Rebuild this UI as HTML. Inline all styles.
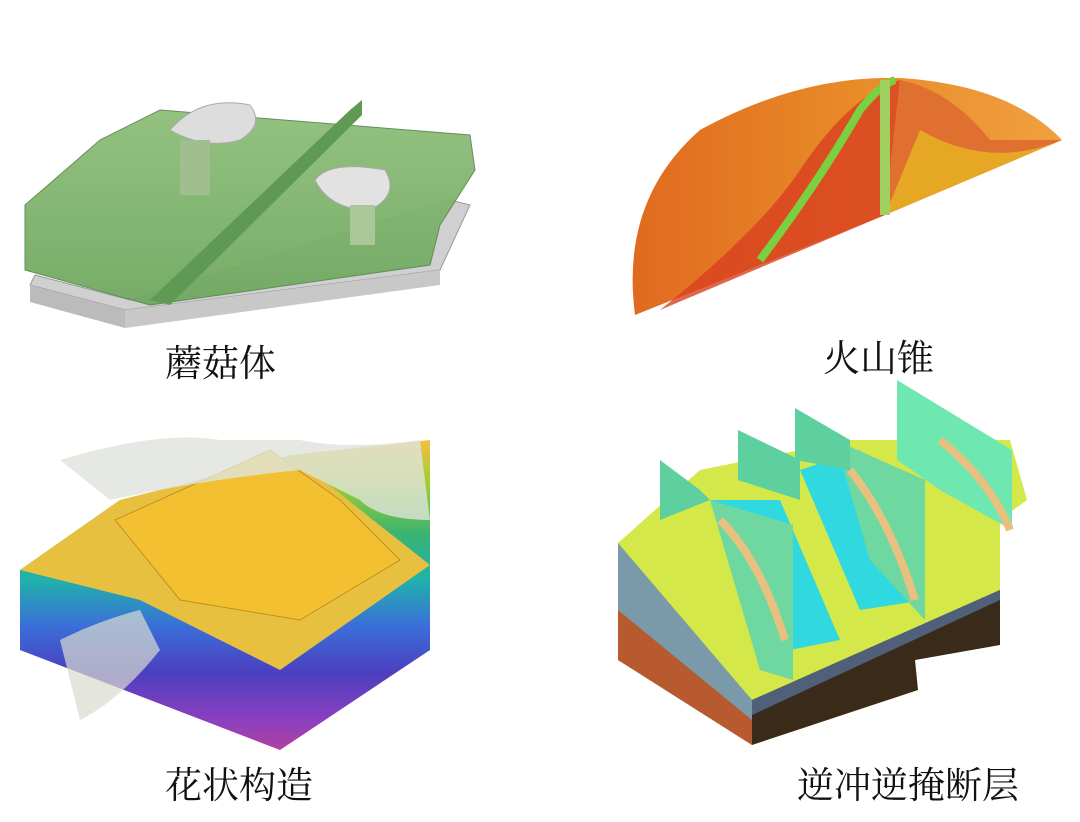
<!DOCTYPE html>
<html><head><meta charset="utf-8"><style>
html,body{margin:0;padding:0;background:#fff;}
#w{position:relative;width:1080px;height:822px;overflow:hidden;}
.t{position:absolute;font-family:"Liberation Serif","Noto Serif CJK SC","Noto Sans CJK SC",serif;font-size:37px;color:#111;white-space:nowrap;}
svg{position:absolute;left:0;top:0;}
</style></head><body><div id="w">
<svg width="1080" height="822" viewBox="0 0 1080 822">
<defs>
<linearGradient id="vol" x1="0" y1="0" x2="1" y2="0">
<stop offset="0" stop-color="#e06a20"/><stop offset="0.5" stop-color="#e88a28"/><stop offset="1" stop-color="#f0a040"/></linearGradient>
<linearGradient id="gr" x1="0" y1="0" x2="0" y2="1">
<stop offset="0" stop-color="#8fbf7a"/><stop offset="1" stop-color="#6fa860"/></linearGradient>
<linearGradient id="rb" x1="0" y1="0" x2="0" y2="1">
<stop offset="0" stop-color="#f2c040"/><stop offset="0.15" stop-color="#9acd32"/><stop offset="0.3" stop-color="#3cb371"/><stop offset="0.45" stop-color="#20b2aa"/><stop offset="0.6" stop-color="#3a6fd8"/><stop offset="0.75" stop-color="#4b3fc0"/><stop offset="0.9" stop-color="#8a3fc0"/><stop offset="1" stop-color="#b040a0"/></linearGradient>
</defs>
<!-- mushroom -->
<polygon points="30,285 125,310 440,270 470,205 450,200 130,300 35,275" fill="#d0d0d0" stroke="#999"/>
<polygon points="30,285 125,310 125,328 30,302" fill="#bbb"/>
<polygon points="125,310 440,270 440,285 125,328" fill="#c8c8c8"/>
<polygon points="25,205 100,140 160,110 470,135 475,170 440,225 430,265 150,305 25,270" fill="url(#gr)" stroke="#5a8a50" opacity="0.95"/>
<polygon points="150,300 350,110 362,100 362,115 170,305" fill="#5f9a55"/>
<path d="M170,130 Q200,95 250,105 Q265,125 240,140 Q205,150 170,130Z" fill="#ddd" stroke="#aaa"/>
<rect x="180" y="140" width="30" height="55" fill="#9fbf90"/>
<path d="M315,180 Q330,160 385,170 Q400,195 370,210 Q330,210 315,180Z" fill="#e2e2e2" stroke="#aaa"/>
<rect x="350" y="205" width="25" height="40" fill="#a8c89a"/>
<!-- volcano -->
<path d="M635,315 Q620,200 700,130 Q800,75 900,78 Q1010,85 1062,140 L885,215 Z" fill="url(#vol)"/>
<path d="M660,310 Q760,230 800,170 Q850,95 900,80 L885,215Z" fill="#d84020" opacity="0.8"/>
<path d="M885,215 L900,80 Q950,90 990,140 L1062,140Z" fill="#e07030"/>
<path d="M885,215 L920,130 Q990,170 1062,140Z" fill="#e8c020" opacity="0.7"/>
<path d="M760,260 Q820,180 860,110 Q880,85 895,80" stroke="#7ad040" stroke-width="8" fill="none"/>
<rect x="880" y="80" width="10" height="135" fill="#a0d060"/>
<!-- flower -->
<polygon points="20,570 120,500 200,480 290,455 430,440 430,650 280,750 20,650" fill="url(#rb)"/>
<polygon points="20,570 120,500 200,480 270,455 310,470 430,565 280,670 140,600" fill="#e8c040"/>
<polygon points="115,520 270,450 340,500 400,560 300,620 180,600" fill="#f2c030" stroke="#c09020"/>
<path d="M60,460 Q160,430 220,440 L300,440 Q350,450 420,440 L430,520 Q380,520 360,500 L300,470 Q200,480 110,500Z" fill="#e0e4dc" opacity="0.8"/>
<path d="M60,640 Q100,620 140,610 L160,650 Q120,700 80,720Z" fill="#d8dcd0" opacity="0.7"/>
<!-- thrust -->
<polygon points="618,543 700,470 850,440 1010,440 1027,500 1000,520 1000,645 915,660 918,690 752,745 618,660" fill="#d4e84a"/>
<polygon points="618,543 752,700 752,745 618,660" fill="#7a9aaa"/>
<polygon points="618,610 752,720 752,745 618,660" fill="#b85a30"/>
<polygon points="752,700 1000,590 1000,645 915,660 918,690 752,745" fill="#3a2a1a"/>
<polygon points="752,700 1000,590 1000,600 752,715" fill="#50607a"/>
<polygon points="710,500 780,500 840,640 790,650" fill="#30d8e0"/>
<polygon points="710,500 793,525 793,680 760,670" fill="#6ed8a0"/>
<polygon points="800,470 860,450 925,600 860,610" fill="#30d8e0"/>
<polygon points="835,440 925,480 925,620 870,560" fill="#6ed8a0"/>
<polygon points="660,460 700,490 710,500 660,520" fill="#5ed0a0"/>
<polygon points="738,430 800,460 800,500 738,480" fill="#5ed0a0"/>
<polygon points="795,408 850,440 850,470 795,460" fill="#5ed0a0"/>
<polygon points="897,380 1012,450 1012,530 940,490 897,460" fill="#6ee8b0"/>
<path d="M720,520 Q760,560 785,640" stroke="#e8c080" stroke-width="8" fill="none"/>
<path d="M850,470 Q890,520 915,600" stroke="#e8c080" stroke-width="8" fill="none"/>
<path d="M940,440 Q990,480 1010,530" stroke="#e8c080" stroke-width="8" fill="none"/>
</svg>
<div class="t" style="left:165px;top:333px;">蘑菇体</div>
<div class="t" style="left:823px;top:328px;">火山锥</div>
<div class="t" style="left:165px;top:755px;">花状构造</div>
<div class="t" style="left:797px;top:755px;">逆冲逆掩断层</div>
</div></body></html>
